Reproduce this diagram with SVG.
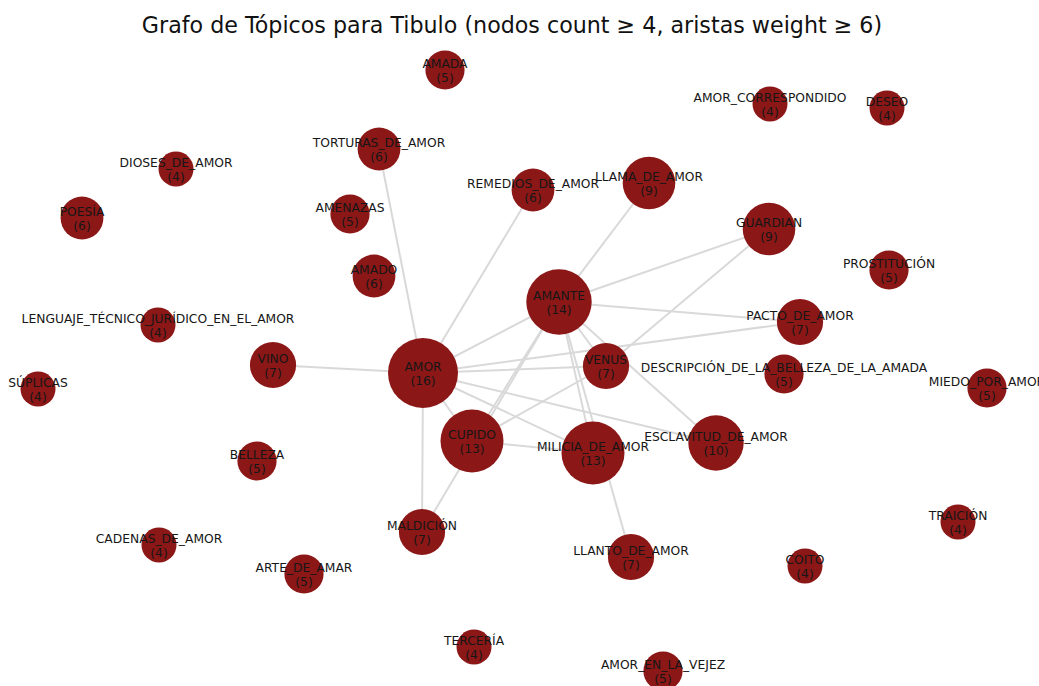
<svg xmlns="http://www.w3.org/2000/svg" width="1039" height="686" viewBox="0 0 1039 686">
  <style>
    .title { font-family: "DejaVu Sans", "Liberation Sans", sans-serif; font-size: 22.2px; fill: #111; text-anchor: middle; }
    .edge { stroke: #d9d9d9; stroke-width: 2; stroke-linecap: round; }
    .node circle { fill: #8c1717; }
    .node text { font-family: "DejaVu Sans", "Liberation Sans", sans-serif; font-size: 12.3px; fill: #161616; text-anchor: middle; }
  </style>
  <rect width="1039" height="686" fill="#ffffff"/>
  <text class="title" x="512" y="33">Grafo de Tópicos para Tibulo (nodos count ≥ 4, aristas weight ≥ 6)</text>

  <!-- connectors (weight ≥ 6) -->
  <g id="edges">
    <line class="edge" x1="423" y1="373" x2="379" y2="149"/>
    <line class="edge" x1="423" y1="373" x2="533" y2="190"/>
    <line class="edge" x1="423" y1="373" x2="559" y2="302"/>
    <line class="edge" x1="423" y1="373" x2="273" y2="365"/>
    <line class="edge" x1="423" y1="373" x2="606" y2="366"/>
    <line class="edge" x1="423" y1="373" x2="800" y2="322"/>
    <line class="edge" x1="423" y1="373" x2="422" y2="532"/>
    <line class="edge" x1="423" y1="373" x2="472" y2="441"/>
    <line class="edge" x1="423" y1="373" x2="593" y2="453"/>
    <line class="edge" x1="423" y1="373" x2="716" y2="443"/>
    <line class="edge" x1="559" y1="302" x2="649" y2="183"/>
    <line class="edge" x1="559" y1="302" x2="769" y2="229"/>
    <line class="edge" x1="559" y1="302" x2="800" y2="322"/>
    <line class="edge" x1="559" y1="302" x2="606" y2="366"/>
    <line class="edge" x1="559" y1="302" x2="716" y2="443"/>
    <line class="edge" x1="559" y1="302" x2="593" y2="453"/>
    <line class="edge" x1="559" y1="302" x2="631" y2="557"/>
    <line class="edge" x1="559" y1="302" x2="472" y2="441"/>
    <line class="edge" x1="559" y1="302" x2="422" y2="532"/>
    <line class="edge" x1="606" y1="366" x2="769" y2="229"/>
    <line class="edge" x1="606" y1="366" x2="472" y2="441"/>
    <line class="edge" x1="472" y1="441" x2="593" y2="453"/>
  </g>

  <!-- nodes: radius grows with sqrt(count) -->
  <g id="n-amor" class="node"><circle cx="423" cy="373" r="35"/><text x="423" y="370.5">AMOR</text><text x="423" y="384.5">(16)</text></g>
  <g id="n-amante" class="node"><circle cx="559" cy="302" r="32.7"/><text x="559" y="299.5">AMANTE</text><text x="559" y="313.5">(14)</text></g>
  <g id="n-cupido" class="node"><circle cx="472" cy="441" r="31.5"/><text x="472" y="438.5">CUPIDO</text><text x="472" y="452.5">(13)</text></g>
  <g id="n-milicia" class="node"><circle cx="593" cy="453" r="31.5"/><text x="593" y="450.5">MILICIA_DE_AMOR</text><text x="593" y="464.5">(13)</text></g>
  <g id="n-esclavitud" class="node"><circle cx="716" cy="443" r="27.7"/><text x="716" y="440.5">ESCLAVITUD_DE_AMOR</text><text x="716" y="454.5">(10)</text></g>
  <g id="n-guardian" class="node"><circle cx="769" cy="229" r="26.3"/><text x="769" y="226.5">GUARDIAN</text><text x="769" y="240.5">(9)</text></g>
  <g id="n-llama" class="node"><circle cx="649" cy="183" r="26.3"/><text x="649" y="180.5">LLAMA_DE_AMOR</text><text x="649" y="194.5">(9)</text></g>
  <g id="n-remedios" class="node"><circle cx="533" cy="190" r="21.4"/><text x="533" y="187.5">REMEDIOS_DE_AMOR</text><text x="533" y="201.5">(6)</text></g>
  <g id="n-torturas" class="node"><circle cx="379" cy="149" r="21.4"/><text x="379" y="146.5">TORTURAS_DE_AMOR</text><text x="379" y="160.5">(6)</text></g>
  <g id="n-amada" class="node"><circle cx="445" cy="70" r="19.6"/><text x="445" y="67.5">AMADA</text><text x="445" y="81.5">(5)</text></g>
  <g id="n-amor-correspondido" class="node"><circle cx="770" cy="104" r="17.5"/><text x="770" y="101.5">AMOR_CORRESPONDIDO</text><text x="770" y="115.5">(4)</text></g>
  <g id="n-deseo" class="node"><circle cx="887" cy="108" r="17.5"/><text x="887" y="105.5">DESEO</text><text x="887" y="119.5">(4)</text></g>
  <g id="n-dioses" class="node"><circle cx="176" cy="169" r="17.5"/><text x="176" y="166.5">DIOSES_DE_AMOR</text><text x="176" y="180.5">(4)</text></g>
  <g id="n-poesia" class="node"><circle cx="82" cy="218" r="21.4"/><text x="82" y="215.5">POESÍA</text><text x="82" y="229.5">(6)</text></g>
  <g id="n-amenazas" class="node"><circle cx="350" cy="214" r="19.6"/><text x="350" y="211.5">AMENAZAS</text><text x="350" y="225.5">(5)</text></g>
  <g id="n-amado" class="node"><circle cx="374" cy="276" r="21.4"/><text x="374" y="273.5">AMADO</text><text x="374" y="287.5">(6)</text></g>
  <g id="n-prostitucion" class="node"><circle cx="889" cy="270" r="19.6"/><text x="889" y="267.5">PROSTITUCIÓN</text><text x="889" y="281.5">(5)</text></g>
  <g id="n-pacto" class="node"><circle cx="800" cy="322" r="23.1"/><text x="800" y="319.5">PACTO_DE_AMOR</text><text x="800" y="333.5">(7)</text></g>
  <g id="n-lenguaje" class="node"><circle cx="158" cy="325" r="17.5"/><text x="158" y="322.5">LENGUAJE_TÉCNICO_JURÍDICO_EN_EL_AMOR</text><text x="158" y="336.5">(4)</text></g>
  <g id="n-vino" class="node"><circle cx="273" cy="365" r="23.1"/><text x="273" y="362.5">VINO</text><text x="273" y="376.5">(7)</text></g>
  <g id="n-venus" class="node"><circle cx="606" cy="366" r="23.1"/><text x="606" y="363.5">VENUS</text><text x="606" y="377.5">(7)</text></g>
  <g id="n-descripcion" class="node"><circle cx="784" cy="374" r="19.6"/><text x="784" y="371.5">DESCRIPCIÓN_DE_LA_BELLEZA_DE_LA_AMADA</text><text x="784" y="385.5">(5)</text></g>
  <g id="n-miedo" class="node"><circle cx="987" cy="388" r="19.6"/><text x="987" y="385.5">MIEDO_POR_AMOR</text><text x="987" y="399.5">(5)</text></g>
  <g id="n-suplicas" class="node"><circle cx="38" cy="389" r="17.5"/><text x="38" y="386.5">SÚPLICAS</text><text x="38" y="400.5">(4)</text></g>
  <g id="n-belleza" class="node"><circle cx="257" cy="461" r="19.6"/><text x="257" y="458.5">BELLEZA</text><text x="257" y="472.5">(5)</text></g>
  <g id="n-maldicion" class="node"><circle cx="422" cy="532" r="23.1"/><text x="422" y="529.5">MALDICIÓN</text><text x="422" y="543.5">(7)</text></g>
  <g id="n-llanto" class="node"><circle cx="631" cy="557" r="23.1"/><text x="631" y="554.5">LLANTO_DE_AMOR</text><text x="631" y="568.5">(7)</text></g>
  <g id="n-cadenas" class="node"><circle cx="159" cy="545" r="17.5"/><text x="159" y="542.5">CADENAS_DE_AMOR</text><text x="159" y="556.5">(4)</text></g>
  <g id="n-arte" class="node"><circle cx="304" cy="574" r="19.6"/><text x="304" y="571.5">ARTE_DE_AMAR</text><text x="304" y="585.5">(5)</text></g>
  <g id="n-coito" class="node"><circle cx="805" cy="566" r="17.5"/><text x="805" y="563.5">COITO</text><text x="805" y="577.5">(4)</text></g>
  <g id="n-traicion" class="node"><circle cx="958" cy="522" r="17.5"/><text x="958" y="519.5">TRAICIÓN</text><text x="958" y="533.5">(4)</text></g>
  <g id="n-terceria" class="node"><circle cx="474" cy="647" r="17.5"/><text x="474" y="644.5">TERCERÍA</text><text x="474" y="658.5">(4)</text></g>
  <g id="n-vejez" class="node"><circle cx="663" cy="671" r="19.6"/><text x="663" y="668.5">AMOR_EN_LA_VEJEZ</text><text x="663" y="682.5">(5)</text></g>
</svg>
